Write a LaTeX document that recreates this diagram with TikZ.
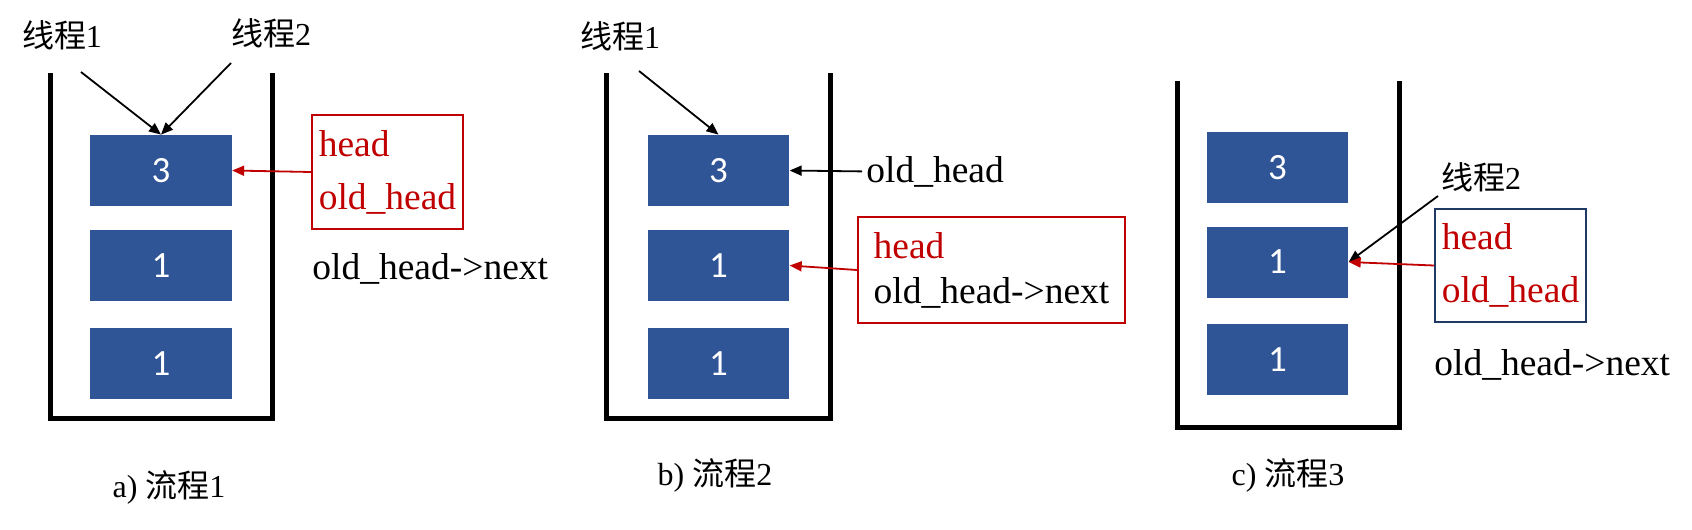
\documentclass[tikz,border=0pt]{standalone}
\usepackage{fontspec}
\setmainfont{Liberation Serif}
\newfontfamily\cjk{Noto Sans CJK SC}
\newfontfamily\cellfont{Carlito}
\usetikzlibrary{arrows.meta}

\definecolor{cellblue}{RGB}{47,85,151}
\definecolor{ptrred}{RGB}{192,0,0}
\definecolor{boxnavy}{RGB}{31,56,100}

\tikzset{
  wall/.style={line width=2.5pt, line join=miter},
  cell/.style={fill=cellblue, minimum width=70.75pt, minimum height=35.5pt,
    inner sep=0pt, text=white, font=\cellfont\fontsize{18.5}{20}\selectfont},
  ptr/.style={-{Triangle[length=6pt,width=5pt]}, line width=0.9pt},
  redptr/.style={ptr, ptrred},
  txt/.style={font=\fontsize{18.75}{22}\selectfont, inner sep=2pt},
  thr/.style={font=\fontsize{16}{18}\selectfont, inner sep=0pt},
  varbox/.style={draw, line width=1pt, align=left, inner sep=0pt},
}

\begin{document}
\begin{tikzpicture}[x=0.5pt, y=-0.5pt]
      \useasboundingbox (0,0) rectangle (1692,530);
      %\foreach \x in {0,100,...,1600} \node [font=\tiny] at (\x,520) {\x};

      % a) flow 1
      \draw [wall] (50,73) -- (50,418) -- (272,418) -- (272,73);
      \node [cell] (a3) at (161,170.5) {3};
      \node [cell] (a1) at (161,265.5) {1};
      \node [cell] (a0) at (161,363.5) {1};
      \node [thr] (at1) at (62,35) {{\cjk 线程}1};
      \node [thr] (at2) at (271,33) {{\cjk 线程}2};
      \coordinate (at1s) at (81,72);
      \coordinate (at2s) at (231,63);
      \draw [ptr] (at1s) -- (a3.north);
      \draw [ptr] (at2s) -- (a3.north);
      \node [varbox, ptrred, minimum width=75.5pt, minimum height=57pt,
        font=\fontsize{18.75}{26.5}\selectfont] (ahead) at (387.5,172)
        {head\\old\_head};
      \draw [redptr] (ahead.west) -- (a3.east);
      \node [txt, anchor=base west] (anext) at (308,279) {old\_head->next};
      \node [thr] (acap) at (169,487) {a) {\cjk 流程}1};

      % b) flow 2
      \draw [wall] (606,73) -- (606,418) -- (830,418) -- (830,73);
      \node [cell] (b3) at (718.5,170.5) {3};
      \node [cell] (b1) at (718.5,265.5) {1};
      \node [cell] (b0) at (718.5,363.5) {1};
      \node [thr] (bt1) at (620,36) {{\cjk 线程}1};
      \coordinate (bt1s) at (639,71);
      \draw [ptr] (bt1s) -- (b3.north);
      \node [txt, anchor=base west] (bold) at (862,182) {old\_head};
      \draw [ptr] (bold.west) -- (b3.east);
      \node [varbox, draw=ptrred, minimum width=133.5pt, minimum height=53pt,
        font=\fontsize{18.75}{22.5}\selectfont] (bhead) at (991.5,270)
        {\textcolor{ptrred}{head}\\old\_head->next};
      \draw [redptr] (bhead.west) -- (b1.east);
      \node [thr] (bcap) at (715,475) {b) {\cjk 流程}2};

      % c) flow 3
      \draw [wall] (1177,81) -- (1177,427) -- (1399,427) -- (1399,81);
      \node [cell] (c3) at (1277.5,167.5) {3};
      \node [cell] (c1) at (1277.5,262) {1};
      \node [cell] (c0) at (1277.5,359.5) {1};
      \node [thr] (ct2) at (1481,177) {{\cjk 线程}2};
      \coordinate (ct2s) at (1438,196);
      \draw [ptr] (ct2s) -- (c1.east);
      \node [varbox, draw=boxnavy, text=ptrred, minimum width=75.5pt,
        minimum height=56.5pt, font=\fontsize{18.75}{26.5}\selectfont]
        (chead) at (1510.5,265.5) {head\\old\_head};
      \draw [redptr] (chead.west) -- (c1.east);
      \node [txt, anchor=base west] (cnext) at (1430,375) {old\_head->next};
      \node [thr] (ccap) at (1288,475) {c) {\cjk 流程}3};
\end{tikzpicture}
\end{document}
